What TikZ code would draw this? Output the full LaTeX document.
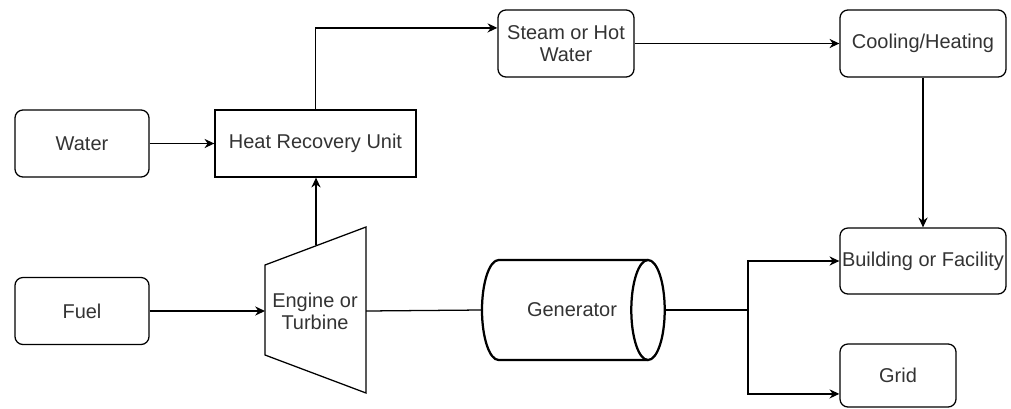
\documentclass[tikz,border=0pt]{standalone}
\usepackage{fontspec}
\setmainfont{Liberation Sans}
\usetikzlibrary{arrows.meta}
\newcommand{\px}{0.025cm}

\tikzset{
  lbl/.style={text=black!80,font=\fontsize{14.2pt}{15.6pt}\selectfont,align=center,inner sep=0pt},
  box/.style={lbl,draw=black,line width=0.9pt,rounded corners=0.2cm},
  plainbox/.style={lbl,draw=black,line width=0.9pt},
  arr/.style={line width=0.9pt,-{Stealth[length=7pt,width=6.5pt]}},
  wire/.style={line width=0.9pt}
}

\begin{document}
\begin{tikzpicture}[x=\px,y=-\px]
\useasboundingbox (0,0) rectangle (1011,408);
\coordinate (ein) at (265,311);
\coordinate (eout) at (366,311);
\coordinate (etop) at (316,245);
\coordinate (split) at (748,310);
% boxes
\node[box,minimum width=3.35cm,minimum height=1.675cm] (water) at (82,143.5) {Water};
\node[box,minimum width=3.35cm,minimum height=1.675cm] (fuel) at (82,311) {Fuel};
\node[plainbox,minimum width=5.025cm,minimum height=1.675cm] (hru) at (315.5,143.5) {Heat Recovery Unit};
\node[box,minimum width=3.4cm,minimum height=1.675cm] (steam) at (566,43.5) {Steam or Hot\\Water};
\node[box,minimum width=4.15cm,minimum height=1.675cm] (cool) at (923,43.5) {Cooling/Heating};
\node[box,minimum width=4.15cm,minimum height=1.65cm] (bldg) at (923,261) {Building or Facility};
\node[box,minimum width=2.9cm,minimum height=1.575cm] (grid) at (898,375.5) {Grid};
% engine
\draw[line width=0.9pt] (265,265) -- (366,227) -- (366,393) -- (265,355) -- cycle;
\node[lbl] (eng) at (315,311) {Engine or\\Turbine};
% generator
\node[minimum width=4.575cm,minimum height=2.5cm,inner sep=0pt] (gen) at (573.5,310) {};
\draw[line width=1.6pt] (648,260) -- (498.7,260)
  arc[start angle=90,end angle=270,x radius=0.4175cm,y radius=1.25cm] -- (648,360);
\draw[line width=1.6pt] (648,310) ellipse[x radius=0.4175cm,y radius=1.25cm];
\node[lbl] (gentxt) at (572,310) {Generator};
% connectors
\draw[arr] (water) -- (hru);
\draw[arr] (etop) -- (etop |- hru.south);
\draw[arr] (hru.north) |- ([yshift=0.39cm]steam.west);
\draw[arr] (steam) -- (cool);
\draw[arr] (cool) -- (bldg);
\draw[arr] (fuel) -- (ein);
\draw[wire] (eout) -- (gen.west);
\draw[wire] (gen.east) -- (split);
\draw[arr] (split) |- (bldg.west);
\draw[arr] (split) |- ([yshift=-0.46cm]grid.west);
\end{tikzpicture}
\end{document}
